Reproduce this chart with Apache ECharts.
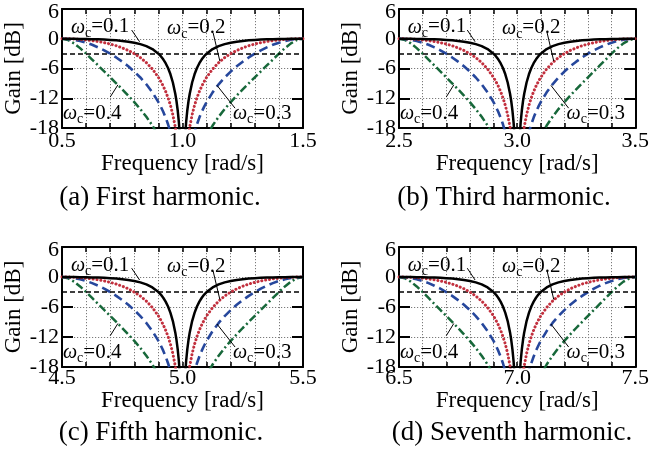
<!DOCTYPE html>
<html>
<head>
<meta charset="utf-8">
<script src="https://cdn.jsdelivr.net/npm/echarts@6/dist/echarts.min.js"></script>
<style>
html,body{margin:0;padding:0;background:#fff;}
#c{width:652px;height:453px;}
</style>
</head>
<body>
<div id="c"></div>
<script>
// ---------------- data ----------------
const centers = [1, 3, 5, 7];
const captions = ['(a) First harmonic.', '(b) Third harmonic.', '(c) Fifth harmonic.', '(d) Seventh harmonic.'];
const yTickLabels = [6, 0, -6, -12, -18];
const wcNames = ['0.1', '0.2', '0.3', '0.4'];
// frequency offset from the notch centre [rad/s]
const offsets = [-0.5,-0.475,-0.45,-0.425,-0.4,-0.375,-0.35,-0.325,-0.3,-0.275,-0.25,-0.225,-0.2,-0.175,-0.15,-0.125,-0.1,-0.09,-0.08,-0.07,-0.06,-0.05,-0.04,-0.03,-0.025,-0.02,-0.015,-0.01,-0.005,
  0.005,0.01,0.015,0.02,0.025,0.03,0.04,0.05,0.06,0.07,0.08,0.09,0.1,0.125,0.15,0.175,0.2,0.225,0.25,0.275,0.3,0.325,0.35,0.375,0.4,0.425,0.45,0.475,0.5];
// gain [dB]
const gainWc01 = [0,0,-0.01,-0.03,-0.05,-0.08,-0.12,-0.17,-0.24,-0.32,-0.44,-0.59,-0.79,-1.08,-1.48,-2.08,-3.01,-3.52,-4.15,-4.93,-5.91,-7.17,-8.82,-11.08,-12.56,-14.42,-16.85,-20.33,-26.32,
  -26.32,-20.33,-16.85,-14.42,-12.56,-11.08,-8.82,-7.17,-5.91,-4.93,-4.15,-3.52,-3.01,-2.08,-1.48,-1.08,-0.79,-0.59,-0.44,-0.32,-0.24,-0.17,-0.12,-0.08,-0.05,-0.03,-0.01,0,0];
const gainWc02 = [0,-0.01,-0.06,-0.13,-0.24,-0.38,-0.56,-0.79,-1.07,-1.41,-1.84,-2.36,-3.01,-3.81,-4.82,-6.10,-7.78,-8.61,-9.54,-10.63,-11.90,-13.43,-15.33,-17.79,-19.36,-21.28,-23.77,-27.29,-33.30,
  -33.30,-27.29,-23.77,-21.28,-19.36,-17.79,-15.33,-13.43,-11.90,-10.63,-9.54,-8.61,-7.78,-6.10,-4.82,-3.81,-3.01,-2.36,-1.84,-1.41,-1.07,-0.79,-0.56,-0.38,-0.24,-0.13,-0.06,-0.01,0];
const gainWc03 = [0,-0.05,-0.20,-0.45,-0.79,-1.22,-1.74,-2.33,-3.01,-3.77,-4.62,-5.56,-6.62,-7.81,-9.19,-10.81,-12.78,-13.70,-14.73,-15.90,-17.25,-18.84,-20.78,-23.28,-24.87,-26.81,-29.31,-32.83,-38.85,
  -38.85,-32.83,-29.31,-26.81,-24.87,-23.28,-20.78,-18.84,-17.25,-15.90,-14.73,-13.70,-12.78,-10.81,-9.19,-7.81,-6.62,-5.56,-4.62,-3.77,-3.01,-2.33,-1.74,-1.22,-0.79,-0.45,-0.20,-0.05,0];
const gainWc04 = [0,-0.25,-0.93,-1.89,-3.01,-4.19,-5.39,-6.59,-7.78,-8.98,-10.20,-11.46,-12.78,-14.19,-15.74,-17.50,-19.58,-20.54,-21.60,-22.80,-24.17,-25.78,-27.75,-30.26,-31.85,-33.79,-36.29,-39.82,-45.84,
  -45.84,-39.82,-36.29,-33.79,-31.85,-30.26,-27.75,-25.78,-24.17,-22.80,-21.60,-20.54,-19.58,-17.50,-15.74,-14.19,-12.78,-11.46,-10.20,-8.98,-7.78,-6.59,-5.39,-4.19,-3.01,-1.89,-0.93,-0.25,0];
const cutoffLevel = -3;
// annotation anchors: [offset, dB]
const annoText = [[-0.463, 2.4], [-0.064, 2.2], [0.2095, -15.0], [-0.496, -15.0]];
const annoFrom = [[-0.211, 1.76], [0.127, 1.2], [0.218, -14.0], [-0.30, -11.75]];
const annoTo = [[-0.178, -0.6], [0.155, -4.5], [0.143, -9.4], [-0.268, -9.3]];

// ---------------- layout / style ----------------
const FONT = '"Liberation Serif", "Times New Roman", serif';
const gridPos = [
  {left: 62, top: 9, width: 241, height: 119},
  {left: 399, top: 9, width: 239, height: 119},
  {left: 62, top: 247, width: 241, height: 120},
  {left: 399, top: 247, width: 239, height: 120}
];
const xLabelMargin = [2, 2, 0, 0];
const captionPos = [[160, 198], [504, 198], [161, 433], [512, 433]];
const curveStyles = [
  {gain: gainWc04, color: '#17683a', type: [8, 3, 2, 3], width: 2.5, cap: 'butt'},
  {gain: gainWc03, color: '#26479c', type: [9, 5], width: 2.6, cap: 'butt'},
  {gain: gainWc02, color: '#c2303e', type: [0.1, 3.8], width: 3, cap: 'round'},
  {gain: gainWc01, color: '#000000', type: 'solid', width: 2.5, cap: 'butt'}
];

const chart = echarts.init(document.getElementById('c'), null, {renderer: 'canvas'});

const grids = [], xAxes = [], yAxes = [], series = [];
centers.forEach((c, i) => {
  grids.push(Object.assign({containLabel: false}, gridPos[i]));
  const xmin = c - 0.5, xmax = c + 0.5;
  xAxes.push({
    type: 'value', gridIndex: i, min: xmin, max: xmax, interval: 0.1, position: 'bottom',
    name: 'Frequency [rad/s]', nameLocation: 'middle', nameGap: 17,
    nameTextStyle: {fontFamily: FONT, fontSize: 23, color: '#000'},
    axisLine: {onZero: false, lineStyle: {color: '#000', width: 2}},
    axisTick: {inside: true, length: 5, lineStyle: {color: '#000', width: 1.5}},
    axisLabel: {
      margin: xLabelMargin[i], fontFamily: FONT, fontSize: 22, color: '#000',
      formatter: v => {
        const k = (v - xmin) / 0.5;
        return Math.abs(k - Math.round(k)) < 1e-6 ? v.toFixed(1) : '';
      }
    },
    splitLine: {show: true, lineStyle: {color: '#7a7a7a', type: [1.2, 1.8], width: 1}}
  });
  xAxes.push({
    type: 'value', gridIndex: i, min: xmin, max: xmax, interval: 0.1, position: 'top',
    axisLine: {onZero: false, lineStyle: {color: '#000', width: 2}},
    axisTick: {inside: true, length: 5, lineStyle: {color: '#000', width: 1.5}},
    axisLabel: {show: false}, splitLine: {show: false}
  });
  yAxes.push({
    type: 'value', gridIndex: i, min: yTickLabels[yTickLabels.length - 1], max: yTickLabels[0], interval: 6, position: 'left',
    name: 'Gain [dB]', nameLocation: 'middle', nameGap: 28, nameRotate: 90,
    nameTextStyle: {fontFamily: FONT, fontSize: 23, color: '#000'},
    axisLine: {onZero: false, lineStyle: {color: '#000', width: 2}},
    axisTick: {inside: true, length: 11, lineStyle: {color: '#000', width: 2}},
    axisLabel: {margin: 3, fontFamily: FONT, fontSize: 22, color: '#000',
      formatter: v => (v === yTickLabels[0] ? '{t|' + v + '}' : String(v)),
      rich: {t: {fontFamily: FONT, fontSize: 22, color: '#000', padding: [7, 0, 0, 0]}}},
    splitLine: {show: true, lineStyle: {color: '#7a7a7a', type: [1.2, 1.8], width: 1}}
  });
  yAxes.push({
    type: 'value', gridIndex: i, min: yTickLabels[yTickLabels.length - 1], max: yTickLabels[0], interval: 6, position: 'right',
    axisLine: {onZero: false, lineStyle: {color: '#000', width: 2}},
    axisTick: {inside: true, length: 11, lineStyle: {color: '#000', width: 2}},
    axisLabel: {show: false}, splitLine: {show: false}
  });
  curveStyles.forEach((s, k) => {
    const ser = {
      type: 'line', xAxisIndex: 2 * i, yAxisIndex: 2 * i, showSymbol: false, symbol: 'none',
      clip: true, smooth: false, silent: true,
      data: offsets.map((d, j) => [c + d, s.gain[j]]),
      lineStyle: {color: s.color, width: s.width, type: s.type, cap: s.cap},
      z: 3 + k
    };
    if (k === curveStyles.length - 1) {
      ser.markLine = {
        silent: true, symbol: ['none', 'none'], label: {show: false}, animation: false,
        lineStyle: {color: '#000', type: [5, 3], width: 1.6},
        data: [{yAxis: cutoffLevel}]
      };
    }
    series.push(ser);
  });
});

chart.setOption({
  animation: false,
  backgroundColor: '#fff',
  grid: grids, xAxis: xAxes, yAxis: yAxes, series: series
});

// annotations
const graphics = [];
centers.forEach((c, i) => {
  wcNames.forEach((w, k) => {
    const p = chart.convertToPixel({gridIndex: i}, [c + annoText[k][0], annoText[k][1]]);
    const a = chart.convertToPixel({gridIndex: i}, [c + annoFrom[k][0], annoFrom[k][1]]);
    const b = chart.convertToPixel({gridIndex: i}, [c + annoTo[k][0], annoTo[k][1]]);
    graphics.push({
      type: 'line', silent: true, z: 20,
      shape: {x1: a[0], y1: a[1], x2: b[0], y2: b[1]},
      style: {stroke: '#000', lineWidth: 1}
    });
    graphics.push({
      type: 'text', silent: true, z: 21, x: p[0], y: p[1],
      style: {
        text: '{w|ω}{s|c}{n|=' + w + '}',
        verticalAlign: 'middle', align: 'left',
        rich: {
          w: {fontFamily: FONT, fontStyle: 'italic', fontSize: 20, fill: '#000', verticalAlign: 'bottom'},
          s: {fontFamily: FONT, fontSize: 14, fill: '#000', verticalAlign: 'bottom', padding: [0, 0, -3, 0]},
          n: {fontFamily: FONT, fontSize: 21, fill: '#000', verticalAlign: 'bottom'}
        }
      }
    });
  });
  graphics.push({
    type: 'text', silent: true, x: captionPos[i][0], y: captionPos[i][1],
    style: {text: captions[i], fontFamily: FONT, fontSize: 27, fill: '#000', align: 'center', verticalAlign: 'middle'}
  });
});
chart.setOption({graphic: graphics});
</script>
</body>
</html>
